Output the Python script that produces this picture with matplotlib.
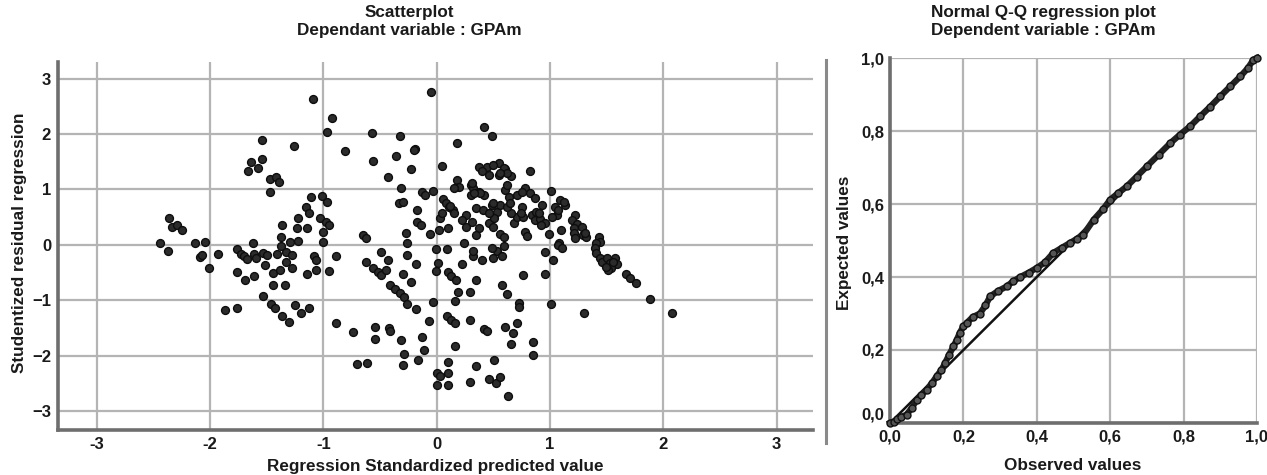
import matplotlib
matplotlib.use("Agg")
import matplotlib.pyplot as plt
from matplotlib.lines import Line2D
from matplotlib.ticker import FuncFormatter

plt.rcParams['font.family'] = ['Liberation Sans', 'DejaVu Sans']
plt.rcParams['font.weight'] = 'bold'

# ---------------- data: scatterplot (standardized predicted vs studentized residual)
pred = [
    -2.44, -2.37, -2.36, -2.33, -2.29, -2.25, -2.13, -2.04, -2.09, -2.07, -2.01, -1.93,
    -1.87, -1.76, -1.76, -1.73, -1.70, -1.67, -1.62, -1.61, -1.59, -1.53, -1.50, -1.51,
    -1.76, -1.69, -1.61, -1.53, -1.46, -1.43, -1.36, -1.30, -1.25, -1.20, -1.13, -1.44,
    -1.34, -1.44, -1.38, -1.41, -1.33, -1.28, -1.33, -1.28, -1.37, -1.29, -1.22, -1.37,
    -1.36, -1.22, -1.23, -1.14, -1.15, -1.13, -1.11, -1.01, -0.97, -1.03, -0.98, -0.95,
    -1.00, -1.00, -1.14, -1.06, -0.95, -1.08, -1.06, -0.89, -0.89,
    -1.09, -0.92, -0.97, -1.54, -1.26, -1.54, -1.64, -1.58, -1.66, -1.47, -1.42, -1.39, -1.47,
    -0.05, -0.57, -0.32, -0.81, -0.56, -0.36, -0.19, -0.23, -0.43, -0.31, -0.33, -0.13,
    -0.10, -0.03, -0.17, -0.17, -0.14, -0.27, -0.26, -0.65, -0.62, -0.06, 0.02, 0.03,
    -0.49, -0.62, -0.56, -0.52, -0.49, -0.45, -0.43, -0.26, -0.18, -0.30, -0.23, -0.41,
    -0.37, -0.32, -0.29, -0.26, -0.18, -0.03, -0.01, 0.09, 0.01, -0.01, 0.10, 0.13,
    0.17, 0.22, 0.19, 0.29, 0.35, 0.16, 0.32, 0.32, 0.40, 0.50, 0.53, 0.58,
    0.49, 0.59, 0.58, 0.62, 0.09, 0.13, 0.16, 0.29, -0.07, 0.42, 0.44, 0.60,
    0.67, 0.71, 0.66, 0.16, -0.13, -0.11, -0.16, -0.31, -0.29, -0.30, -0.74, -0.54,
    -0.54, -0.42, -0.41, -0.70, -0.61, 0.00, 0.03, 0.00, 0.10, 0.10, 0.10, 0.29,
    0.35, 0.51, 0.46, 0.52, 0.56, 0.63,
    0.06, 0.08, 0.11, 0.14, 0.10, 0.18, 0.20, 0.15, 0.30, 0.32, 0.30, 0.37,
    0.42, 0.37, 0.44, 0.40, 0.46, 0.55, 0.60, 0.55, 0.66, 0.60, 0.62, 0.64,
    0.71, 0.26, 0.35, 0.41, 0.49, 0.53, 0.56, 0.22, 0.26, 0.37, 0.46, 0.51,
    0.50, 0.24, 0.35, 0.56, 0.59, 0.68, 0.71, 0.66, 0.62, 0.42, 0.49, 0.18, 0.05,
    0.82, 0.78, 0.82, 0.87, 0.75, 1.01, 0.75, 0.76, 0.84, 0.88, 0.93, 0.87,
    0.91, 0.96, 0.92, 1.04, 1.09, 1.13, 1.06, 1.22, 1.19, 1.24, 1.21, 1.10,
    0.99, 0.78, 0.80, 1.29, 1.32, 1.43, 1.44, 1.08,
    1.07, 1.11, 1.41, 1.40, 1.41, 1.44, 1.46, 1.50, 1.53, 1.57, 1.59, 1.54,
    1.51, 1.49, 1.56, 1.67, 1.71, 1.76, 1.88, 2.08, 1.30, 1.01, 0.96, 1.03,
    0.96, 0.76, 0.73, 0.73, 0.85, 0.85, 1.21, 1.22,
    0.31, 0.50, 0.46, 0.65, 0.74, 0.90, 1.02, 1.12, 1.07, 1.28, 1.31, 0.31,
    0.38, 0.33, 0.50, 0.59, 0.62, 0.56, 0.12, 0.05, 0.15, -0.20, -0.30,
]
resid = [
    0.03, -0.11, 0.49, 0.33, 0.36, 0.27, 0.03, 0.05, -0.22, -0.19, -0.42, -0.16,
    -1.17, -1.14, -0.08, -0.16, -0.20, -0.25, 0.04, -0.16, -0.23, -0.14, -0.19, -0.37,
    -0.49, -0.63, -0.57, -0.93, -1.07, -1.14, -1.29, -1.39, -1.08, -1.22, -1.13, -0.73,
    -0.72, -0.51, -0.46, -0.17, -0.13, -0.19, -0.31, -0.42, -0.02, 0.05, 0.07, 0.15,
    0.36, 0.49, 0.30, 0.31, 0.68, 0.58, 0.86, 0.88, 0.78, 0.48, 0.42, 0.36,
    0.24, 0.05, -0.52, -0.46, -0.48, -0.20, -0.27, -0.20, -1.41,
    2.63, 2.29, 2.03, 1.89, 1.79, 1.55, 1.50, 1.39, 1.33, 1.19, 1.23, 1.13, 0.96,
    2.75, 2.02, 1.96, 1.70, 1.52, 1.61, 1.73, 1.37, 1.23, 1.02, 0.75, 0.96,
    0.90, 0.98, 0.63, 0.42, 0.35, 0.22, 0.03, 0.17, 0.12, 0.20, 0.27, 0.48,
    -0.13, -0.31, -0.42, -0.49, -0.54, -0.45, -0.28, -0.19, -0.34, -0.52, -0.67, -0.72,
    -0.80, -0.87, -0.94, -1.07, -1.15, -1.03, -0.07, -0.07, -0.33, -0.48, -0.49, -0.57,
    -0.64, -0.34, -0.85, -0.85, -0.64, -1.01, -0.20, -0.11, -0.28, -0.23, -0.11, -0.20,
    -0.05, -0.02, -0.73, -0.88, -1.28, -1.36, -1.41, -1.36, -1.38, -1.52, -1.56, -1.48,
    -1.59, -1.41, -1.79, -1.83, -1.66, -1.89, -2.08, -1.72, -1.97, -2.17, -1.58, -1.48,
    -1.69, -1.50, -1.56, -2.15, -2.13, -2.31, -2.37, -2.52, -2.12, -2.31, -2.52, -2.48,
    -2.19, -2.08, -2.42, -2.49, -2.39, -2.72,
    0.83, 0.75, 0.68, 0.63, 0.30, 1.17, 1.05, 1.02, 1.08, 1.02, 0.90, 0.96,
    0.90, 1.40, 1.40, 1.33, 1.27, 1.48, 1.37, 1.27, 1.25, 0.99, 1.08, 0.87,
    0.90, 0.54, 0.66, 0.63, 0.72, 0.60, 0.72, 0.45, 0.33, 0.30, 0.39, 0.48,
    0.33, 0.04, 0.18, 0.20, 0.15, 0.39, 0.51, 0.57, 0.69, 2.12, 1.97, 1.84, 1.42,
    1.33, 1.02, 0.93, 0.84, 0.96, 0.98, 0.69, 0.51, 0.54, 0.60, 0.72, 0.45,
    0.46, 0.40, 0.36, 0.69, 0.81, 0.72, 0.54, 0.54, 0.45, 0.38, 0.30, 0.26,
    0.20, 0.24, 0.16, 0.18, 0.15, 0.15, 0.06, 0.03,
    0.00, -0.05, 0.04, -0.05, -0.14, -0.23, -0.30, -0.23, -0.33, -0.23, -0.34, -0.42,
    -0.46, -0.39, -0.30, -0.52, -0.60, -0.69, -0.97, -1.23, -1.23, -1.07, -0.13, -0.28,
    -0.52, -0.54, -1.05, -1.12, -1.76, -1.98, 0.21, 0.12,
    0.42, 0.75, 0.57, 0.75, 0.58, 0.57, 0.51, 0.78, 0.63, 0.33, 0.21, 1.11,
    0.93, 0.94, 1.44, 1.38, 1.29, 1.29, 0.70, 0.57, 0.57, 1.71, 0.78,
]

x_ticks = [-3, -2, -1, 0, 1, 2, 3]
y_ticks = [-3, -2, -1, 0, 1, 2, 3]

# ---------------- data: normal Q-Q (observed vs expected cumulative probability)
observed = [0.000, 0.010, 0.020, 0.030, 0.045, 0.060, 0.073, 0.085, 0.100, 0.115,
            0.127, 0.140, 0.150, 0.160, 0.173, 0.182, 0.190, 0.200, 0.209, 0.225,
            0.245, 0.260, 0.273, 0.295, 0.318, 0.335, 0.355, 0.378, 0.400, 0.422,
            0.445, 0.468, 0.490, 0.510, 0.527, 0.555, 0.580, 0.600, 0.622, 0.645,
            0.672, 0.700, 0.732, 0.764, 0.790, 0.818, 0.845, 0.873, 0.900, 0.927,
            0.955, 0.975, 0.990, 1.000]
expected = [0.000, 0.004, 0.010, 0.016, 0.023, 0.042, 0.064, 0.076, 0.091, 0.110,
            0.128, 0.145, 0.164, 0.185, 0.210, 0.228, 0.247, 0.265, 0.274, 0.290,
            0.300, 0.322, 0.347, 0.362, 0.374, 0.388, 0.400, 0.412, 0.425, 0.440,
            0.466, 0.480, 0.493, 0.505, 0.516, 0.557, 0.585, 0.612, 0.630, 0.648,
            0.675, 0.703, 0.735, 0.767, 0.790, 0.813, 0.840, 0.867, 0.895, 0.922,
            0.950, 0.972, 0.995, 1.000]
qq_ticks = [0.0, 0.2, 0.4, 0.6, 0.8, 1.0]

# ---------------- figure
W, H = 1267, 475
fig = plt.figure(figsize=(W / 100, H / 100), dpi=100)

grid_c = '#b4b4b4'
spine_c = '#6e6e6e'
txt_c = '#1a1a1a'
fs = 12.3
tfs = 12


def frac_box(x0, y0, x1, y1):
    return [x0 / W, 1 - y1 / H, (x1 - x0) / W, (y1 - y0) / H]


def ftext(x, y, s, **kw):
    fig.text(x / W, 1 - y / H, s, ha='center', va='center', fontsize=fs,
             fontweight='bold', color=txt_c, **kw)


# Left: scatterplot
ax1 = fig.add_axes(frac_box(58, 62, 813, 430))
ax1.set_xlim(-3.34, 3.32)
ax1.set_ylim(-3.34, 3.30)
ax1.set_xticks(x_ticks)
ax1.set_yticks(y_ticks)
ax1.grid(True, color=grid_c, lw=1.6)
ax1.set_axisbelow(True)
for s in ['top', 'right']:
    ax1.spines[s].set_visible(False)
for s in ['left', 'bottom']:
    ax1.spines[s].set_color(spine_c)
    ax1.spines[s].set_linewidth(2.6)
ax1.tick_params(length=0, pad=5, labelsize=tfs, colors=txt_c)
ax1.xaxis.set_major_formatter(FuncFormatter(lambda v, p: f"{int(v)}"))
ax1.scatter(pred, resid, s=32, c='#2b2b2b', edgecolors='#0d0d0d', linewidths=1.0, zorder=3)
ftext(435, 466, 'Regression Standardized predicted value')
ftext(20, 243, 'Studentized residual regression', rotation=90)
ftext(409, 13, 'Scatterplot')
ftext(409, 31, 'Dependant variable : GPAm')

# separator line
fig.add_artist(Line2D([826 / W, 826 / W], [1 - 60 / H, 1 - 443 / H], color='#8a8a8a', lw=2.2))

# Right: Q-Q plot
ax2 = fig.add_axes(frac_box(890, 58, 1257, 423))
ax2.set_xlim(0, 1)
ax2.set_ylim(0, 1)
ax2.set_xticks(qq_ticks)
ax2.set_yticks(qq_ticks)
ax2.grid(True, color=grid_c, lw=1.6)
ax2.set_axisbelow(True)
for s in ['top', 'right']:
    ax2.spines[s].set_visible(False)
for s in ['left', 'bottom']:
    ax2.spines[s].set_color(spine_c)
    ax2.spines[s].set_linewidth(2.6)
ax2.tick_params(length=0, labelsize=tfs, colors=txt_c)
ax2.tick_params(axis='x', pad=5)
ax2.tick_params(axis='y', pad=4)
fmt = FuncFormatter(lambda v, p: f"{v:.1f}".replace('.', ','))
ax2.xaxis.set_major_formatter(fmt)
ax2.yaxis.set_major_formatter(fmt)
for lbl in ax2.get_yticklabels():
    if lbl.get_text() == '0,0':
        lbl.set_va('bottom')
ax2.plot([0, 1], [0, 1], color='#111111', lw=1.8, zorder=3)
ax2.plot(observed, expected, color='#222222', lw=4.5, zorder=4, clip_on=False,
         marker='o', ms=5, mfc='#555555', mec='#111111', mew=1.0)
ftext(1073, 466, 'Observed values')
ftext(845, 243, 'Expected values', rotation=90)
ftext(1043, 13, 'Normal Q-Q regression plot')
ftext(1043, 31, 'Dependent variable : GPAm')

fig.savefig('out.png', dpi=100)
